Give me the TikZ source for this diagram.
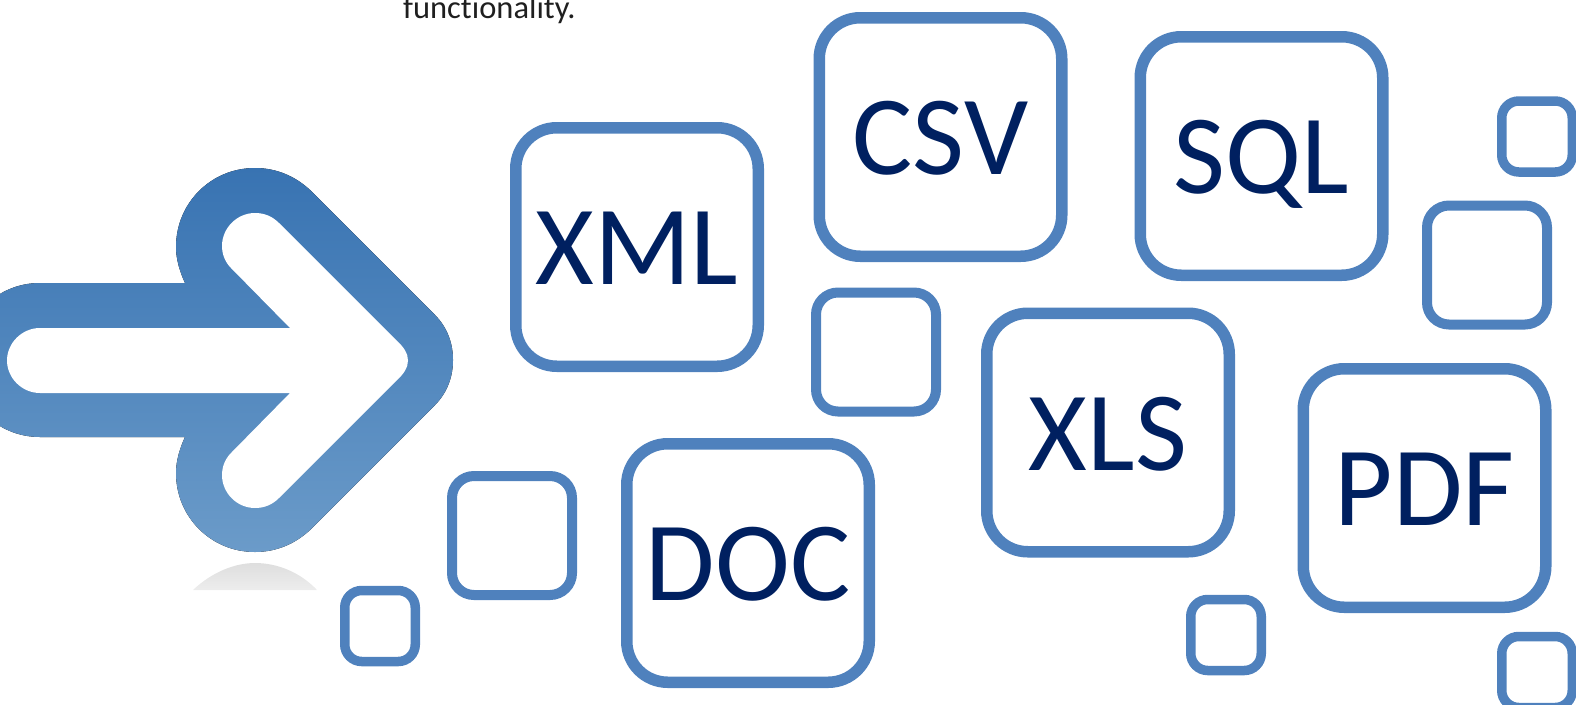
\documentclass[tikz,border=0pt]{standalone}
\usepackage{fontspec}
\setmainfont{Carlito}[Ligatures=CommonOff]
\definecolor{boxblue}{HTML}{4F81BD}
\definecolor{navy}{HTML}{002060}
\definecolor{arrowtop}{HTML}{3873B2}
\definecolor{arrowbot}{HTML}{6B9BC9}
\definecolor{shadetop}{HTML}{DEDEDE}
\definecolor{shadebot}{HTML}{EDEDED}
\tikzset{
  x=1pt,y=-1pt,
  bigbox/.style={draw=boxblue,line width=11.5pt,rounded corners=41pt,minimum width=242.5pt,minimum height=238.5pt,inner sep=0pt,text=navy,font=\fontsize{113}{113}\selectfont,text height=75pt,text depth=0pt},
  midbox/.style={draw=boxblue,line width=10pt,rounded corners=22pt,minimum width=120pt,minimum height=119pt,inner sep=0pt},
  tinybox/.style={draw=boxblue,line width=9.5pt,rounded corners=17pt,minimum width=70.5pt,minimum height=71pt,inner sep=0pt},
}
\begin{document}
\begin{tikzpicture}
\useasboundingbox (0,0) rectangle (1576,704);
% arrow
\path[top color=shadetop,bottom color=shadebot]
  (193,590) .. controls (212,572) and (235,563) .. (255,563) .. controls (277,563) and (300,572) .. (317,590) -- cycle;
\fill[top color=arrowtop,bottom color=arrowbot,draw=none]
  (40,283) -- (185,283)
  .. controls (179,270) and (176,258) .. (176,247)
  .. controls (176,203) and (211,168) .. (255,168)
  .. controls (276,168) and (295,176) .. (310,190)
  -- (435,315)
  .. controls (447,327) and (453,343) .. (453,360)
  .. controls (453,377) and (447,393) .. (435,405)
  -- (310,530)
  .. controls (295,544) and (276,552) .. (255,552)
  .. controls (211,552) and (176,517) .. (176,473)
  .. controls (176,462) and (179,450) .. (185,437)
  -- (40,437)
  .. controls (-3,437) and (-37,403) .. (-37,360)
  .. controls (-37,317) and (-3,283) .. (40,283) -- cycle;
\fill[white]
  (40,328) -- (290,328) -- (231,268)
  .. controls (225,262) and (222,254) .. (222,246)
  .. controls (222,228) and (237,213) .. (255,213)
  .. controls (264,213) and (272,216) .. (279,223)
  -- (396,340)
  .. controls (412,354) and (412,367) .. (396,381)
  -- (279,498)
  .. controls (272,505) and (264,508) .. (255,508)
  .. controls (237,508) and (222,493) .. (222,475)
  .. controls (222,467) and (225,459) .. (231,453)
  -- (290,393) -- (40,393)
  .. controls (22,393) and (7,378) .. (7,360.5)
  .. controls (7,343) and (22,328) .. (40,328) -- cycle;
% caption fragment
\node[anchor=base west,inner sep=0pt,font=\fontsize{32.5}{32.5}\selectfont,text=black!88!white] (cap) at (403,18) {functionality.};
% labelled boxes
\node[bigbox] (xml) at (637,247) {XML};
\node[bigbox] (csv) at (940.5,137) {CSV};
\node[bigbox] (sql) at (1261.5,156) {SQL};
\node[bigbox] (xls) at (1108,432.5) {XLS};
\node[bigbox] (pdf) at (1424.5,488) {PDF};
\node[bigbox] (doc) at (748,563) {DOC};
% empty boxes
\node[midbox] (m1) at (876,352) {};
\node[midbox] (m2) at (512,535.5) {};
\node[midbox] (m3) at (1487,265) {};
\node[tinybox] (t1) at (1537,136.5) {};
\node[tinybox] (t2) at (380,626) {};
\node[tinybox] (t3) at (1226,635) {};
\node[tinybox] (t4) at (1537,672) {};
\end{tikzpicture}
\end{document}
